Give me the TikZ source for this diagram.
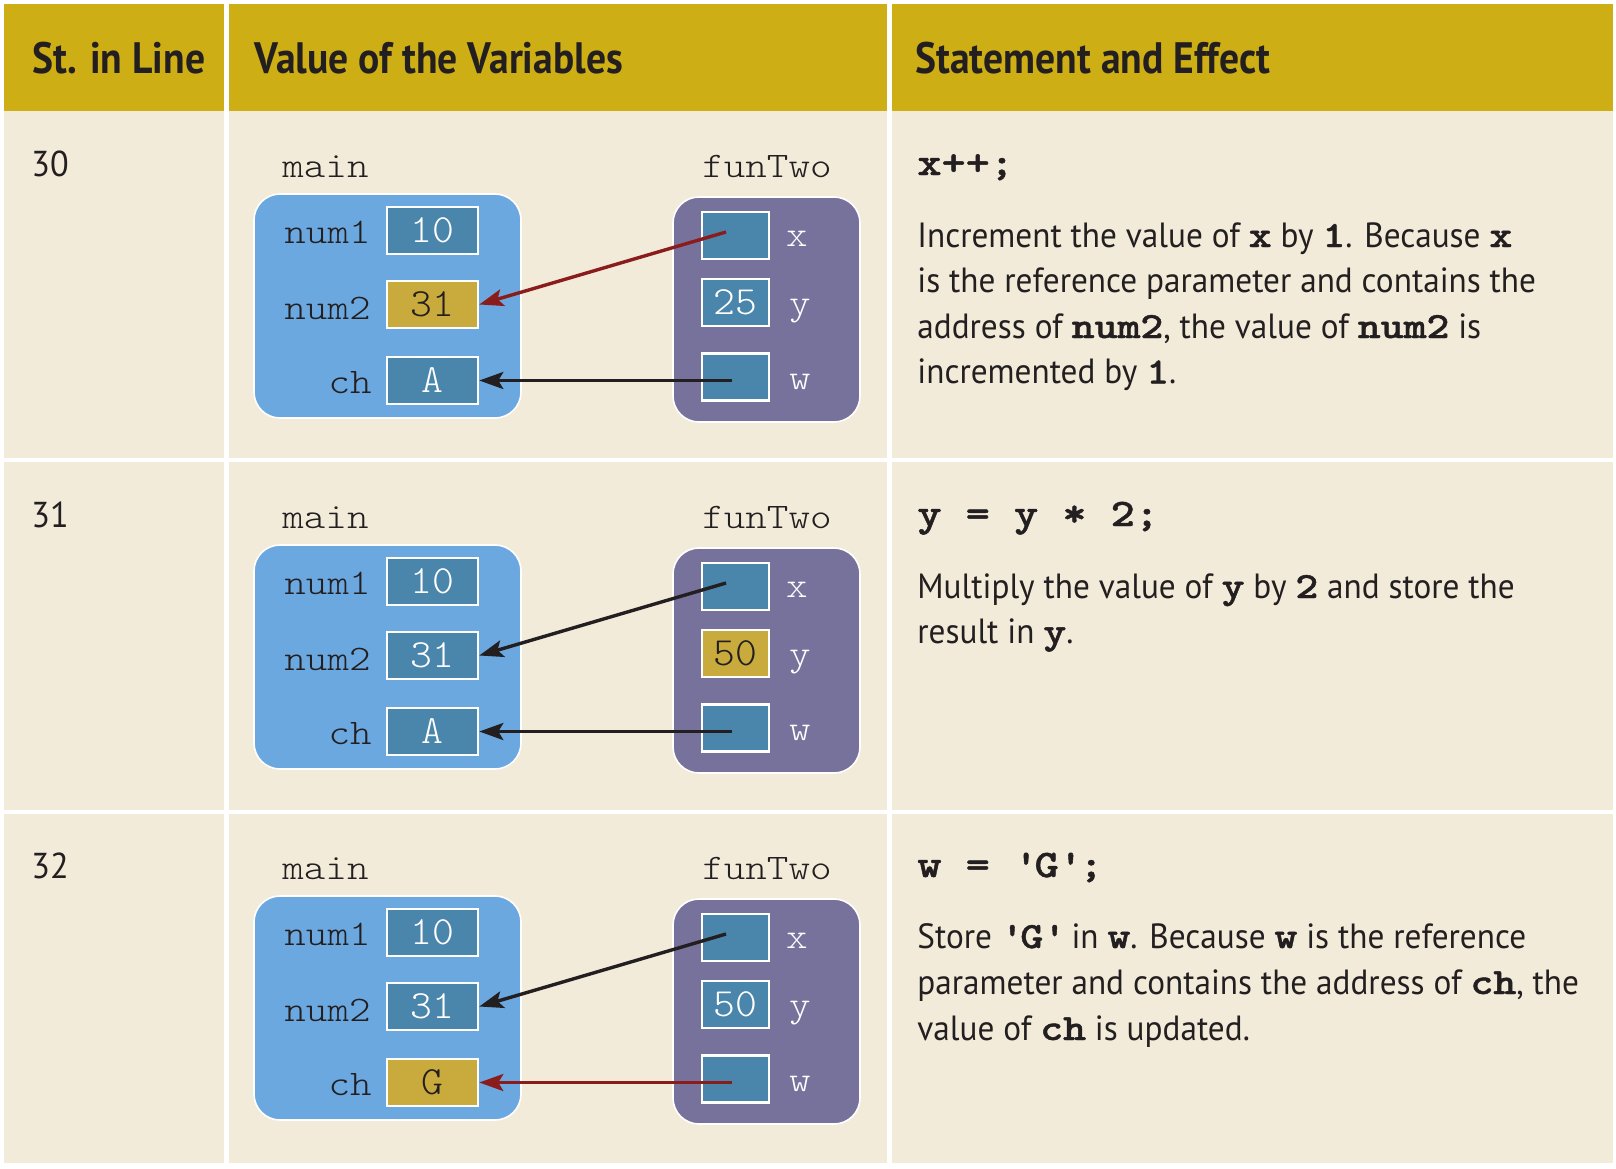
\documentclass[tikz,border=0pt]{standalone}
\usepackage{fontspec}
\setmainfont{PT Sans}[FakeStretch=0.95]
\newfontfamily\headfont{PT Sans}[FakeStretch=0.9]
\newfontfamily\mono{lmmonolt10-regular.otf}[FakeStretch=1.14]
\newfontfamily\monov{lmmonolt10-regular.otf}[FakeStretch=1.04]
\newfontfamily\monob{lmmonolt10-bold.otf}[FakeStretch=1.18,FakeBold=1.2]
\usetikzlibrary{arrows.meta}
\definecolor{hdr}{HTML}{CDAE14}
\definecolor{cell}{HTML}{F2EBDA}
\definecolor{mainbg}{HTML}{6AA8DF}
\definecolor{funbg}{HTML}{77729C}
\definecolor{valbg}{HTML}{4A85AB}
\definecolor{hil}{HTML}{C9AA3C}
\definecolor{redar}{HTML}{8B1C1C}
\definecolor{ink}{HTML}{231F20}
\newcommand\cb[1]{{\monob\fontsize{18.5}{22}\selectfont #1}}
\tikzset{
  lbl/.style={font=\mono\fontsize{18}{20}\selectfont, text=ink, inner sep=0pt},
  vlbl/.style={font=\mono\fontsize{18}{20}\selectfont, text=white, inner sep=0pt},
  mainbox/.style={fill=mainbg, draw=white, line width=0.8pt, rounded corners=13pt,
    minimum width=133.5pt, minimum height=112pt, inner sep=0pt},
  funbox/.style={fill=funbg, draw=white, line width=0.8pt, rounded corners=13pt,
    minimum width=93.5pt, minimum height=112.5pt, inner sep=0pt},
  valbox/.style={fill=valbg, draw=white, line width=1.3pt, minimum width=45.5pt,
    minimum height=23.5pt, inner sep=0pt, text=white, font=\monov\fontsize{20}{22}\selectfont},
  hilbox/.style={valbox, fill=hil, text=ink},
  pvalbox/.style={valbox, minimum width=33.5pt},
  philbox/.style={hilbox, minimum width=33.5pt},
  arr/.style={line width=1.7pt, -{Stealth[length=12pt,width=8.5pt,inset=2.5pt]}},
  hdtext/.style={font=\headfont\bfseries\fontsize{22}{24}\selectfont, text=ink, inner sep=0pt, anchor=base west},
  numtext/.style={font=\fontsize{18}{22}\selectfont, text=ink, inner sep=0pt, anchor=base west},
  body/.style={font=\fontsize{17.5}{22}\selectfont, text=ink, inner sep=0pt, anchor=base west},
  codehead/.style={font=\monob\fontsize{19.5}{22}\selectfont, text=ink, inner sep=0pt, anchor=base west},
}
% #1 suffix, #2 num2 style, #3 y value, #4 y style, #5 ch value, #6 ch style, #7 x-arrow colour, #8 w-arrow colour
\newcommand\memrow[8]{%
  \node[lbl,anchor=base west] (mlbl#1) at (282,177) {main};
  \node[lbl,anchor=base east] (flbl#1) at (832,177) {funTwo};
  \node[mainbox] (mbox#1) at (387.5,306) {};
  \node[funbox] (fbox#1) at (766.5,309.5) {};
  \node[valbox] (num1#1) at (432.5,230.5) {10};
  \node[#2] (num2#1) at (432.5,304.5) {31};
  \node[#6] (ch#1) at (432.5,380.5) {#5};
  \node[lbl,anchor=base east] (n1l#1) at (371,243) {num1};
  \node[lbl,anchor=base east] (n2l#1) at (371,319) {num2};
  \node[lbl,anchor=base east] (chl#1) at (372,393) {ch};
  \node[pvalbox] (x#1) at (735.5,235.5) {};
  \node[#4] (y#1) at (735.5,302.5) {#3};
  \node[pvalbox] (w#1) at (735.5,377) {};
  \node[vlbl,anchor=base] (xl#1) at (797,246) {x};
  \node[vlbl,anchor=base] (yl#1) at (800,314) {y};
  \node[vlbl,anchor=base] (wl#1) at (800,389) {w};
  \coordinate (xs#1) at (726,232);
  \coordinate (ws#1) at (732,380.5);
  \draw[arr,#7] (xs#1) -- (num2#1.east);
  \draw[arr,#8] (ws#1) -- (ch#1.east);
}
\begin{document}
\begin{tikzpicture}[x=0.5pt,y=-0.5pt]
\useasboundingbox (0,0) rectangle (1616,1168);
\fill[white] (0,0) rectangle (1616,1168);
% header
\fill[hdr] (4,4) rectangle (224,111);
\fill[hdr] (229,4) rectangle (887,111);
\fill[hdr] (892,4) rectangle (1613,111);
\node[hdtext] (h1) at (32,73) {St. in Line};
\node[hdtext] (h2) at (254,73) {Value of the Variables};
\node[hdtext] (h3) at (915,73) {Statement and Effect};
% cells
\foreach \ya/\yb in {111/458, 462/810, 814/1163}{
  \fill[cell] (4,\ya) rectangle (224,\yb);
  \fill[cell] (229,\ya) rectangle (887,\yb);
  \fill[cell] (892,\ya) rectangle (1613,\yb);
}
% row 1
\node[numtext] (r1) at (31,176) {30};
\memrow{a}{hilbox}{25}{pvalbox}{A}{valbox}{redar}{ink}
\node[codehead] (c1) at (917,175) {x++;};
\node[body] (t1a) at (917,247) {Increment the value of \cb{x} by \cb{1}. Because \cb{x}};
\node[body] (t1b) at (917,292.5) {is the reference parameter and contains the};
\node[body] (t1c) at (917,338) {address of \cb{num2}, the value of \cb{num2} is};
\node[body] (t1d) at (917,383.5) {incremented by \cb{1}.};
% row 2
\node[numtext] (r2) at (31,527) {31};
\begin{scope}[shift={(0,351)}]
\memrow{b}{valbox}{50}{philbox}{A}{valbox}{ink}{ink}
\end{scope}
\node[codehead] (c2) at (917,526) {y = y * 2;};
\node[body] (t2a) at (917,598) {Multiply the value of \cb{y} by \cb{2} and store the};
\node[body] (t2b) at (917,643.5) {result in \cb{y}.};
% row 3
\node[numtext] (r3) at (31,878) {32};
\begin{scope}[shift={(0,702)}]
\memrow{c}{valbox}{50}{pvalbox}{G}{hilbox}{ink}{redar}
\end{scope}
\node[codehead] (c3) at (917,877) {w = \textquotesingle G\textquotesingle;};
\node[body] (t3a) at (917,948) {Store \cb{\textquotesingle G\textquotesingle} in \cb{w}. Because \cb{w} is the reference};
\node[body] (t3b) at (917,994) {parameter and contains the address of \cb{ch}, the};
\node[body] (t3c) at (917,1040) {value of \cb{ch} is updated.};
\end{tikzpicture}
\end{document}
